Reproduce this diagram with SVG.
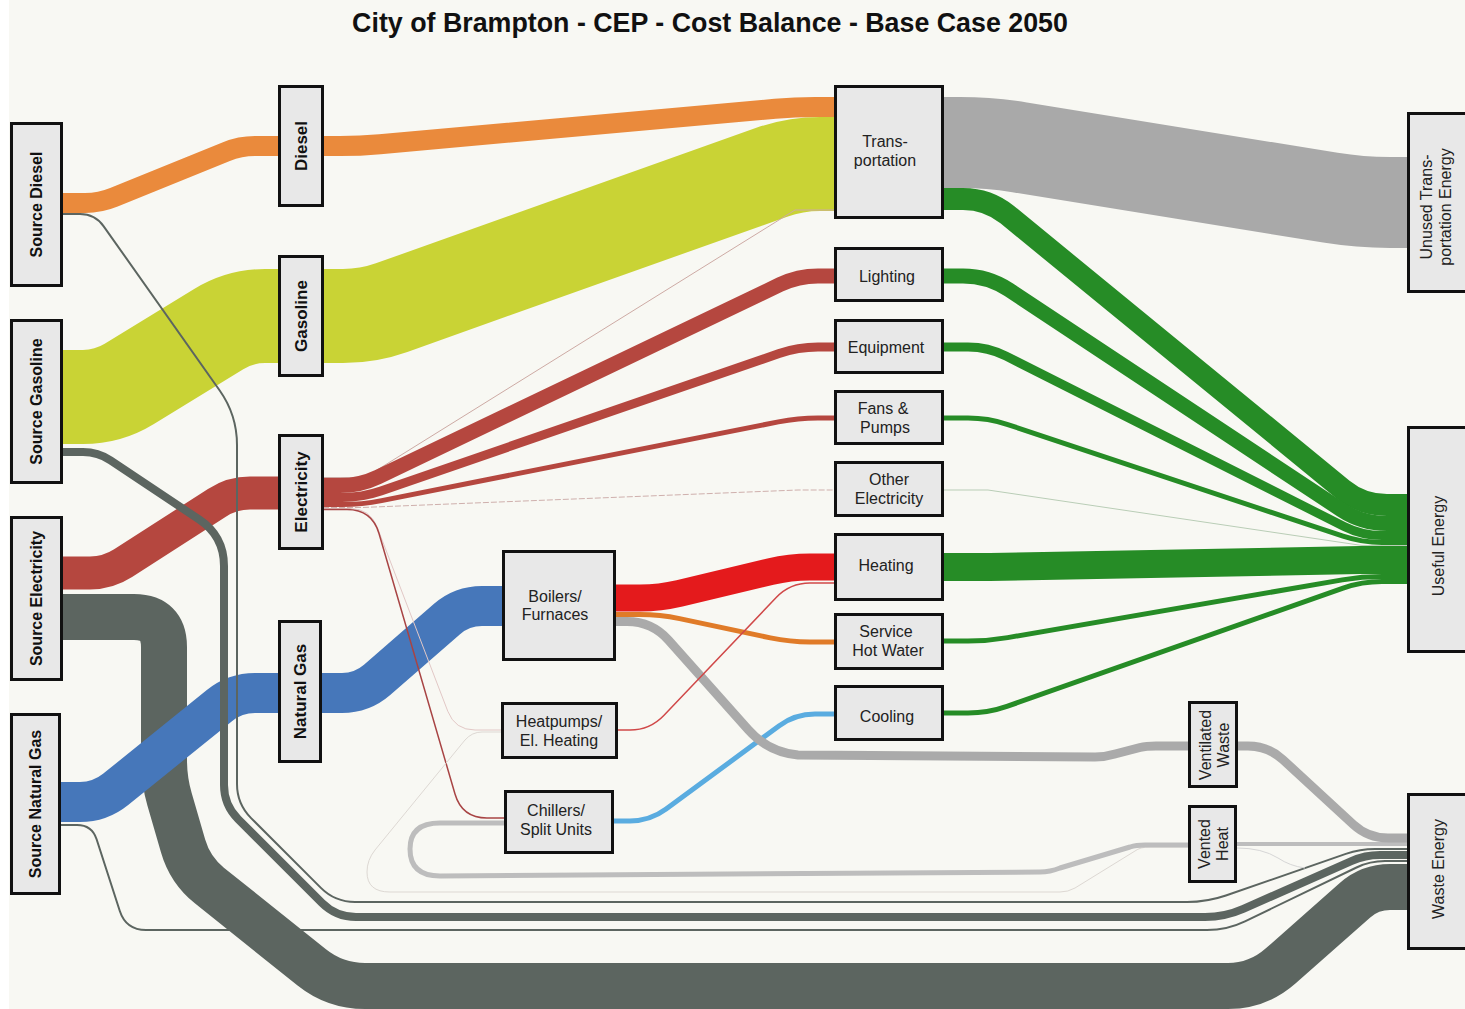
<svg xmlns="http://www.w3.org/2000/svg" width="1465" height="1009" viewBox="0 0 1465 1009">
<style>
.f{fill:none;stroke-linecap:butt;stroke-linejoin:round}
.n rect{fill:#e8e8e8;stroke:#111;stroke-width:3}
.n text{font-family:"Liberation Sans",Arial,sans-serif;font-size:16px;fill:#222;text-anchor:middle}
.b text{font-weight:bold;fill:#111}
.r{dominant-baseline:central}
.title{font-family:"Liberation Sans",Arial,sans-serif;font-size:26.8px;font-weight:bold;fill:#111;text-anchor:middle}
.orange{stroke:#ea8a3c}.yellow{stroke:#c9d335}.red{stroke:#b5473f}.blue{stroke:#4677ba}
.dk{stroke:#5c6560}.lg{stroke:#a9a9a9}.gr{stroke:#268c26}.hr{stroke:#e41a1c}
</style>
<rect x="0" y="0" width="1465" height="1009" fill="#f8f8f3"/>
<rect x="0" y="0" width="9" height="1009" fill="#ffffff"/>
<text class="title" x="710" y="32">City of Brampton - CEP - Cost Balance - Base Case 2050</text>

<g id="connectors">
  <!-- Transportation outputs -->
  <path class="f lg" stroke-width="91" d="M943,142.5 H960 Q990,142.5 1019.6,147.3 L1330.4,197.7 Q1360,202.5 1390,202.5 H1408"/>
  <path class="f gr" stroke-width="22" d="M943,199 H963 Q988,199 1007.4,214.8 L1342.6,489.2 Q1362,505 1387,505 H1408"/>
  <path class="f gr" stroke-width="15" d="M943,276 H963 Q988,276 1008.9,289.8 L1341.1,509.7 Q1362,523.5 1387,523.5 H1408"/>
  <path class="f gr" stroke-width="9" d="M943,347 H968 Q988,347 1005.9,356 L1344.1,526.5 Q1362,535.5 1382,535.5 H1408"/>
  <path class="f gr" stroke-width="5" d="M943,418 H968 Q988,418 1007,424.3 L1343,536.2 Q1362,542.5 1382,542.5 H1408"/>
  <path class="f" stroke="#b9cdb6" stroke-width="1" d="M943,490 H988 L1362,545.5 H1408"/>
  <path class="f gr" stroke-width="28" d="M943,567 H990 L1360,560 H1408"/>
  <path class="f gr" stroke-width="5" d="M943,641 H968 Q988,641 1007.7,637.6 L1342.3,579.9 Q1362,576.5 1382,576.5 H1408"/>
  <path class="f gr" stroke-width="5" d="M943,713 H968 Q988,713 1006.9,706.4 L1343.1,588.1 Q1362,581.5 1382,581.5 H1408"/>

  <!-- Fuels to carriers -->
  <path class="f yellow" stroke-width="94" d="M63,397 H83 Q108,397 129.3,383.9 L218.7,329.1 Q240,316 265,316 H279"/>
  <path class="f yellow" stroke-width="94" d="M323,316 H343 Q368,316 391.6,307.6 L771.4,172.4 Q795,164 820,164 H835"/>
  <path class="f orange" stroke-width="20" d="M63,203 H85 Q100,203 113.9,197.3 L226.1,151.7 Q240,146 255,146 H279"/>
  <path class="f orange" stroke-width="20" d="M323,146 H340 Q360,146 379.9,144.2 L775.1,108.8 Q795,107 815,107 H835"/>

  <!-- Natural gas waste (under big band) -->
  <path class="f dk" stroke-width="2" d="M60,825 H77 Q92,825 96.6,839.3 L119.8,911 Q126,930 146,930 H1207 Q1227,930 1245,921.3 L1356.5,867.5 Q1370,861 1385,861 H1408"/>
  <!-- Electricity waste big band -->
  <path class="f dk" stroke-width="46" d="M63,617 H134 Q164,617 164,647 V760 Q164,780 169.5,799.2 L183.1,846 Q190,870 209.5,885.6 L311.6,967.25 Q335,986 365,986 H1228 Q1258,986 1280.5,966.1 L1355,900.2 Q1370,887 1390,887 H1408"/>

  <!-- Electricity -->
  <path class="f red" stroke-width="33" d="M63,573 H90 Q108,573 123.1,563.2 L216.9,502.8 Q232,493 250,493 H279"/>
  <path class="f" stroke="#cdaaa4" stroke-width="1" d="M323,477.5 H365 L795,210 H835"/>
  <path class="f red" stroke-width="15" d="M323,485.5 H340 Q360,485.5 378,476.9 L780,284.6 Q798,276 818,276 H835"/>
  <path class="f red" stroke-width="9" d="M323,497.5 H342 Q362,497.5 380.9,491 L779.1,353.5 Q798,347 818,347 H835"/>
  <path class="f red" stroke-width="5" d="M323,504.5 H342 Q362,504.5 381.6,500.6 L778.4,421.9 Q798,418 818,418 H835"/>
  <path class="f" stroke="#cfb0ad" stroke-width="1" stroke-dasharray="6 2" d="M323,507.5 H362 L798,490 H835"/>

  <!-- Natural gas -->
  <path class="f blue" stroke-width="40" d="M60,802 H80 Q100,802 115.6,789.4 L219.4,705.6 Q235,693 255,693 H279"/>
  <path class="f blue" stroke-width="40" d="M321,693 H342 Q362,693 377.1,679.9 L446.9,619.1 Q462,606 482,606 H503"/>

  <!-- Electricity to heatpumps / chillers -->
  <path class="f" stroke="#e2c8c6" stroke-width="1" d="M323,508.5 H350 Q370,508.5 377.2,527.2 L447.8,711.3 Q455,730 475,730 H503"/>
  <path class="f" stroke="#a84444" stroke-width="1.5" d="M323,509.5 H347 Q372,509.5 379,533.5 L455,794 Q462,818 487,818 H505"/>

  <!-- Diesel and gasoline waste -->
  <path class="f dk" stroke-width="2" d="M63,214 H80 Q95,214 103.7,226.3 L219.7,390.5 Q237,415 237,445 V784 Q237,804 251.1,818.1 L320.9,887.9 Q335,902 355,902 H1187 Q1207,902 1225.9,895.5 L1345.8,853.9 Q1360,849 1375,849 H1408"/>
  <path class="f dk" stroke-width="8" d="M63,452 H83 Q98,452 110.5,460.3 L199,519.4 Q224,536 224,566 V785 Q224,805 238.1,819.1 L321.9,902.9 Q336,917 356,917 H1205 Q1225,917 1243.3,908.9 L1351.3,861.1 Q1365,855 1380,855 H1408"/>

  <!-- Loops to vented heat -->
  <path class="f" stroke="#ddd8d3" stroke-width="1" d="M503,732 H482 Q472,732 465,740 L375,850 Q367,860 367,872 Q367,892 390,892 H1060 Q1068,892 1075,888 L1135,851 Q1140,847 1150,847 H1189"/>
  <path class="f" stroke="#bdbdbd" stroke-width="5" d="M505,823 H440 Q410,823 410,849 Q410,876 440,876 L1040,872 Q1050,872 1060,868 L1130,847 Q1136,845 1145,845 H1189"/>
  <path class="f" stroke="#bdbdbd" stroke-width="4" d="M1236,844 H1408"/>
  <path class="f" stroke="#d6d6d6" stroke-width="1" d="M1237,848 Q1262,848 1278,858 Q1290,866 1305,868"/>

  <!-- Boilers outputs -->
  <path class="f" stroke="#5aace0" stroke-width="5" d="M613,821 H630 Q650,821 666.1,809.1 L778.9,725.9 Q795,714 815,714 H835"/>
  <path class="f" stroke="#aaaaaa" stroke-width="9" d="M615,621.5 H627 Q652,621.5 668.6,640.2 L748.1,729.6 Q768,752 798,755 L1095,757 Q1105,757 1115,754 L1140,747.5 Q1146,746 1156,746 H1189"/>
  <path class="f" stroke="#aaaaaa" stroke-width="9" d="M1237,746 H1248 Q1268,746 1282.7,759.5 L1353.3,824.5 Q1368,838 1388,838 H1408"/>
  <path class="f hr" stroke-width="27" d="M615,598 H640 Q660,598 679.5,593.4 L770.5,571.6 Q790,567 810,567 H835"/>
  <path class="f" stroke="#e07b28" stroke-width="5" d="M615,614.5 H640 Q660,614.5 679.6,618.6 L770.4,637.9 Q790,642 810,642 H835"/>
  <path class="f" stroke="#d04848" stroke-width="1.5" d="M617,730 H630 Q650,730 663.8,715.5 L776.2,597.5 Q790,583 810,583 H835"/>
</g>

<g id="node-source-diesel" class="n b"><rect x="11.5" y="123.5" width="50" height="162"/><text class="r" transform="translate(36.5,204.5) rotate(-90)">Source Diesel</text></g>
<g id="node-source-gasoline" class="n b"><rect x="11.5" y="320.5" width="50" height="162"/><text class="r" transform="translate(36.5,401.5) rotate(-90)">Source Gasoline</text></g>
<g id="node-source-electricity" class="n b"><rect x="11.5" y="517.5" width="50" height="162"/><text class="r" transform="translate(36.5,598.5) rotate(-90)">Source Electricity</text></g>
<g id="node-source-natural-gas" class="n b"><rect x="11.5" y="714.5" width="48" height="179"/><text class="r" transform="translate(35.5,804) rotate(-90)">Source Natural Gas</text></g>

<g id="node-diesel" class="n b"><rect x="279.5" y="86.5" width="43" height="119"/><text class="r" style="font-size:17px" transform="translate(301,146) rotate(-90)">Diesel</text></g>
<g id="node-gasoline" class="n b"><rect x="279.5" y="256.5" width="43" height="119"/><text class="r" style="font-size:17px" transform="translate(301,316) rotate(-90)">Gasoline</text></g>
<g id="node-electricity" class="n b"><rect x="279.5" y="435.5" width="43" height="113"/><text class="r" style="font-size:17px" transform="translate(301,492) rotate(-90)">Electricity</text></g>
<g id="node-natural-gas" class="n b"><rect x="279.5" y="621.5" width="41" height="140"/><text class="r" style="font-size:17px" transform="translate(300,691.5) rotate(-90)">Natural Gas</text></g>

<g id="node-boilers" class="n"><rect x="503.5" y="551.5" width="111" height="108"/><text x="555" y="602">Boilers/</text><text x="555" y="620">Furnaces</text></g>
<g id="node-heatpumps" class="n"><rect x="502.5" y="703.5" width="114" height="54"/><text x="559" y="727">Heatpumps/</text><text x="559" y="746">El. Heating</text></g>
<g id="node-chillers" class="n"><rect x="505.5" y="791.5" width="107" height="61"/><text x="556" y="816">Chillers/</text><text x="556" y="835">Split Units</text></g>

<g id="node-transportation" class="n"><rect x="835.5" y="86.5" width="107" height="131"/><text x="885" y="147">Trans-</text><text x="885" y="166">portation</text></g>
<g id="node-lighting" class="n"><rect x="835.5" y="248.5" width="107" height="52"/><text x="887" y="282">Lighting</text></g>
<g id="node-equipment" class="n"><rect x="835.5" y="320.5" width="107" height="52"/><text x="886" y="353">Equipment</text></g>
<g id="node-fans-pumps" class="n"><rect x="835.5" y="391.5" width="107" height="52"/><text x="883" y="414">Fans &amp;</text><text x="885" y="433">Pumps</text></g>
<g id="node-other-electricity" class="n"><rect x="835.5" y="462.5" width="107" height="53"/><text x="889" y="485">Other</text><text x="889" y="504">Electricity</text></g>
<g id="node-heating" class="n"><rect x="835.5" y="534.5" width="107" height="65"/><text x="886" y="571">Heating</text></g>
<g id="node-service-hot-water" class="n"><rect x="835.5" y="614.5" width="107" height="54"/><text x="886" y="637">Service</text><text x="888" y="656">Hot Water</text></g>
<g id="node-cooling" class="n"><rect x="835.5" y="686.5" width="107" height="53"/><text x="887" y="722">Cooling</text></g>

<g id="node-ventilated-waste" class="n"><rect x="1189.5" y="702.5" width="47" height="84"/><text class="r" transform="translate(1205,745) rotate(-90)">Ventilated</text><text class="r" transform="translate(1223,745) rotate(-90)">Waste</text></g>
<g id="node-vented-heat" class="n"><rect x="1189.5" y="806.5" width="46" height="75"/><text class="r" transform="translate(1204,844) rotate(-90)">Vented</text><text class="r" transform="translate(1222,844) rotate(-90)">Heat</text></g>

<g id="node-unused-transportation-energy" class="n"><rect x="1408.5" y="113.5" width="60" height="178"/><text class="r" transform="translate(1426,207) rotate(-90)">Unused Trans-</text><text class="r" transform="translate(1445,207) rotate(-90)">portation Energy</text></g>
<g id="node-useful-energy" class="n"><rect x="1408.5" y="427.5" width="60" height="224"/><text class="r" transform="translate(1438,546) rotate(-90)">Useful Energy</text></g>
<g id="node-waste-energy" class="n"><rect x="1408.5" y="794.5" width="60" height="154"/><text class="r" transform="translate(1438,869) rotate(-90)">Waste Energy</text></g>
</svg>
